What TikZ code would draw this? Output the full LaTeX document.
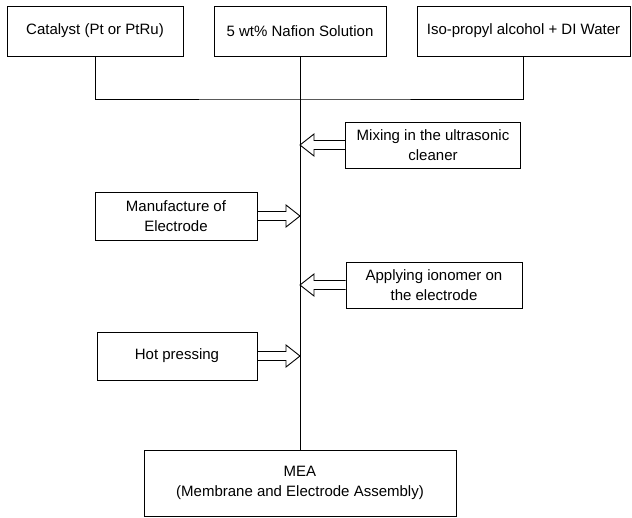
\documentclass[tikz,border=0pt]{standalone}
\usepackage{fontspec}
\setmainfont{Liberation Sans}
\usetikzlibrary{calc}

\begin{document}
\begin{tikzpicture}[x=1pt,y=-1pt,line width=0.9pt,
			box/.style={draw,rectangle,inner sep=2pt,align=center,
				font=\fontsize{15}{20}\selectfont},
			hollow/.style={to path={
				let \p1=(\tikztostart), \p2=(\tikztotarget),
				\n1={ifthenelse(\x2>\x1,1,-1)} in
				(\x1,\y1+4.5) -- (\x2-\n1*14,\y1+4.5) -- (\x2-\n1*14,\y1+11)
				-- (\x2,\y1) -- (\x2-\n1*14,\y1-11) -- (\x2-\n1*14,\y1-4.5)
				-- (\x1,\y1-4.5)}}]
			\useasboundingbox (0,0) rectangle (632,517);
			% inputs
			\node (cat) [box,minimum width=176,minimum height=50] at (95,31) {Catalyst (Pt or PtRu)};
			\node (naf) [box,minimum width=172,minimum height=50] at (300,31) {5 wt\% Nafion Solution};
			\node (iso) [box,minimum width=213,minimum height=50] at (523.5,31) {Iso-propyl alcohol + DI Water};
			\coordinate (join) at (300,99);
			\draw (cat.south) |- (join) -| (iso.south);
			% steps
			\node (mix) [box,minimum width=175,minimum height=46] at (433,145) {Mixing in the ultrasonic\\cleaner};
			\node (man) [box,minimum width=162,minimum height=48] at (176,216) {Manufacture of\\Electrode};
			\node (app) [box,minimum width=176,minimum height=46] at (434,285) {Applying ionomer on\\the electrode};
			\node (hot) [box,minimum width=160,minimum height=48] at (177,356) {Hot pressing};
			\node (mea) [box,minimum width=312,minimum height=66] at (300,483) {MEA\\(Membrane and Electrode Assembly)};
			\draw (naf.south) -- (naf.south |- mea.north);
			\draw (mix.west) to[hollow] (mix.west -| naf.south);
			\draw (man.east) to[hollow] (man.east -| naf.south);
			\draw (app.west) to[hollow] (app.west -| naf.south);
			\draw (hot.east) to[hollow] (hot.east -| naf.south);
		\end{tikzpicture}
\end{document}
